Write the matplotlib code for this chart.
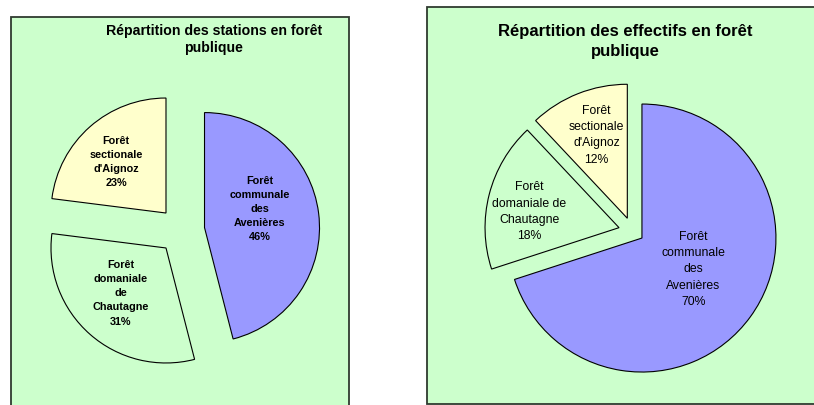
import numpy as np
import matplotlib
matplotlib.use("Agg")
import matplotlib.pyplot as plt
from matplotlib.patches import Rectangle

plt.rcParams['font.family'] = ['Liberation Sans', 'DejaVu Sans']

# ---- data ----
categories = ["Forêt communale des Avenières",
              "Forêt domaniale de Chautagne",
              "Forêt sectionale d'Aignoz"]
stations = [46, 31, 23]
effectifs = [70, 18, 12]
labels_left = ["Forêt\ncommunale\ndes\nAvenières",
               "Forêt\ndomaniale\nde\nChautagne",
               "Forêt\nsectionale\nd'Aignoz"]
labels_right = ["Forêt\ncommunale\ndes\nAvenières",
                "Forêt\ndomaniale de\nChautagne",
                "Forêt\nsectionale\nd'Aignoz"]
title_left = "Répartition des stations en forêt\npublique"
title_right = "Répartition des effectifs en forêt\npublique"

# ---- style ----
W, H = 814, 405
BG = '#CCFFCC'
colors = ['#9999FF', '#CCFFCC', '#FFFFCC']

fig = plt.figure(figsize=(W / 100, H / 100), dpi=100)
ax = fig.add_axes([0, 0, 1, 1])


def draw_pie(values, labels, center, radius, explode, label_polar, fs, weight, ls):
    total = sum(values)
    wedges, _ = ax.pie(values, colors=colors, startangle=90, counterclock=False,
                       center=center, radius=radius, explode=explode,
                       wedgeprops=dict(edgecolor='black', linewidth=0.8))
    for w, lab, v, (d, th) in zip(wedges, labels, values, label_polar):
        cx, cy = w.center
        t = np.deg2rad(th)
        ax.text(cx + d * np.sin(t), cy + d * np.cos(t),
                f"{lab}\n{v / total * 100:.0f}%", ha='center', va='center',
                ma='center', fontsize=fs, fontweight=weight, linespacing=ls,
                color='black', zorder=5)


# panels
ax.add_patch(Rectangle((11, H - 425), 338, 425 - 17, facecolor=BG,
                       edgecolor='#2f3a2f', linewidth=1.3, zorder=0))
ax.add_patch(Rectangle((427, H - 403.5), 420, 403.5 - 7, facecolor=BG,
                       edgecolor='#2f3a2f', linewidth=1.3, zorder=0))

draw_pie(stations, labels_left, (181.4, H - 230.5), 115, [23.3, 23.3, 23.3],
         [(58.5, 71.5), (63.8, 224.8), (71.4, 315.6)], 7.8, 'bold', 1.53)
draw_pie(effectifs, labels_right, (632.4, H - 231.1), 134, [11.8, 13.8, 13.8],
         [(60.4, 121.3), (91.4, 280), (88.7, 339.8)], 8.8, 'normal', 1.48)

ax.text(213.7, H - 39.5, title_left, ha='center', va='center', ma='center',
        fontsize=10.2, fontweight='bold', linespacing=1.27, zorder=5)
ax.text(625.3, H - 41.5, title_right, ha='center', va='center', ma='center',
        fontsize=12, fontweight='bold', linespacing=1.36, zorder=5)

ax.set_xlim(0, W)
ax.set_ylim(0, H)
ax.set_aspect('auto')
ax.axis('off')

fig.savefig('out.png', dpi=100, facecolor='white')
